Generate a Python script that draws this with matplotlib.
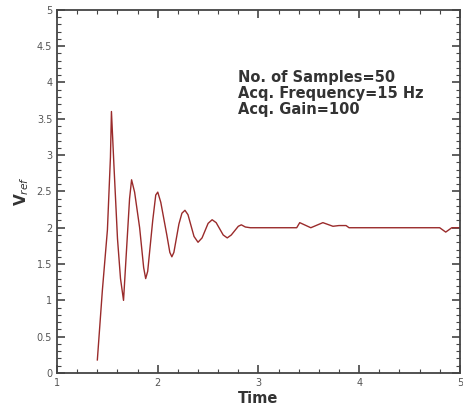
import matplotlib
matplotlib.use("Agg")
from matplotlib import pyplot as plt
from matplotlib.ticker import MultipleLocator, FuncFormatter

time = [1.40, 1.45, 1.50, 1.53, 1.54, 1.565, 1.60, 1.63, 1.66, 1.69, 1.72, 1.74,
        1.77, 1.82, 1.86, 1.88, 1.90, 1.95, 1.98, 2.00, 2.03, 2.09, 2.12, 2.14,
        2.16, 2.21, 2.24, 2.27, 2.30, 2.36, 2.40, 2.44, 2.50, 2.54, 2.58, 2.65,
        2.69, 2.73, 2.80, 2.83, 2.87, 2.92, 3.38, 3.41, 3.52, 3.64, 3.74, 3.80,
        3.87, 3.90, 4.80, 4.86, 4.92, 5.00]
v_ref = [0.18, 1.14, 1.97, 2.97, 3.60, 2.85, 1.85, 1.30, 1.00, 1.70, 2.40, 2.66,
         2.49, 2.00, 1.45, 1.30, 1.40, 2.10, 2.45, 2.49, 2.35, 1.90, 1.66, 1.60,
         1.66, 2.05, 2.20, 2.24, 2.18, 1.88, 1.80, 1.86, 2.06, 2.11, 2.07, 1.90,
         1.86, 1.90, 2.02, 2.04, 2.01, 2.00, 2.00, 2.07, 2.00, 2.07, 2.02, 2.03,
         2.03, 2.00, 2.00, 1.94, 2.00, 2.00]

info_lines = ["No. of Samples=50", "Acq. Frequency=15 Hz", "Acq. Gain=100"]

fig = plt.figure(figsize=(4.64, 4.09), dpi=100)
ax = fig.add_axes([0.123, 0.088, 0.868, 0.888])

ax.plot(time, v_ref, color="#9a2b2b", linewidth=1.0)

ax.set_xlim(1, 5)
ax.set_ylim(0, 5)
ax.xaxis.set_major_locator(MultipleLocator(1))
ax.xaxis.set_minor_locator(MultipleLocator(0.2))
ax.yaxis.set_major_locator(MultipleLocator(0.5))
ax.yaxis.set_minor_locator(MultipleLocator(0.1))
fmt = FuncFormatter(lambda val, pos: f"{val:g}")
ax.xaxis.set_major_formatter(fmt)
ax.yaxis.set_major_formatter(fmt)

ax.tick_params(which="both", direction="in", top=True, right=True,
               colors="#444444", labelcolor="#555555", labelsize=7)
ax.tick_params(which="major", length=6, width=1.2)
ax.tick_params(which="minor", length=3, width=0.8)
for s in ax.spines.values():
    s.set_color("#444444")
    s.set_linewidth(1.3)

ax.set_xlabel("Time", fontsize=10.5, fontweight="bold", color="#333333", labelpad=2)
ax.set_ylabel(r"V$_{ref}$", fontsize=11, fontweight="bold", color="#333333", labelpad=4)

ax.text(0.448, 0.835, "\n".join(info_lines), transform=ax.transAxes,
        fontsize=10.5, fontweight="bold", color="#333333", va="top",
        linespacing=1.1)

fig.savefig("out.png", dpi=100)
